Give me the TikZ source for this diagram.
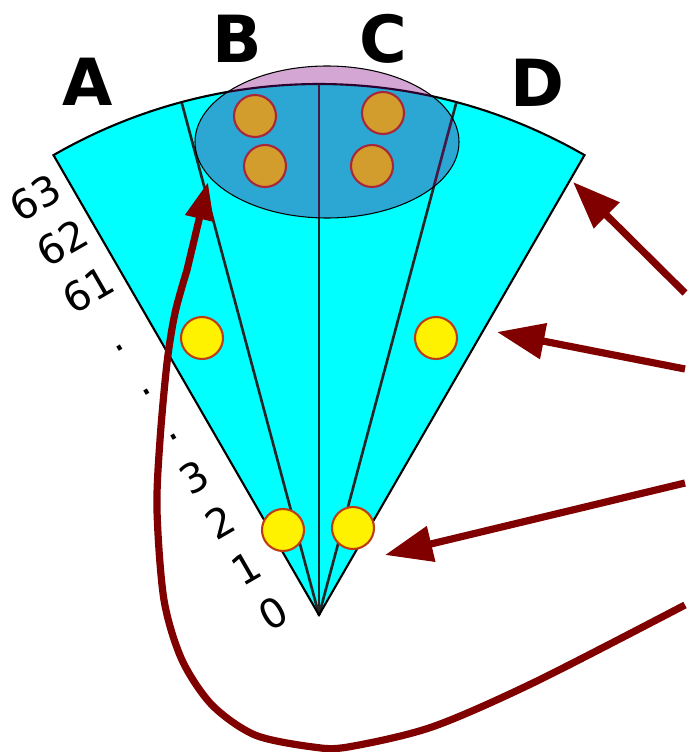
\documentclass[tikz,border=0pt]{standalone}
\usepackage{fontspec}
\setmainfont{DejaVu Sans}
\usepackage{xcolor}
\usepackage{tikz}
\usetikzlibrary{arrows.meta,positioning,calc}
\definecolor{fancyan}{RGB}{0,255,255}
\definecolor{lenspurple}{RGB}{128,0,128}
\definecolor{arrowred}{RGB}{128,0,0}
\definecolor{hitrim}{RGB}{190,60,20}

\begin{document}
\begin{tikzpicture}[x=0.02cm,y=0.02cm,
  hit/.style={circle, draw=hitrim, fill=yellow, line width=1.2pt, minimum size=0.84cm, inner sep=0pt},
  pointer/.style={-{Triangle[length=0.95cm,width=0.7cm]}, line width=4.1pt, arrowred},
  loop pointer/.style={-{Triangle[length=0.75cm,width=0.55cm]}, line width=4.1pt, arrowred},
  letter/.style={font=\fontsize{37}{38}\selectfont\bfseries},
  layer/.style={font=\fontsize{23}{24}\selectfont, rotate=30, inner sep=0pt}]
  \useasboundingbox (0,0) rectangle (689,752);
  \coordinate (O) at (319,137);
  % Faecher
  \fill[fancyan] (O) -- ($(O)+(60:531)$) arc[start angle=60, end angle=120, radius=531] -- cycle;
  \foreach \a in {75,90,105}
    \draw[line width=1.5pt, black!85] (O) -- ($(O)+(\a:531)$);
  \draw[line width=1.2pt] (O) -- ($(O)+(60:531)$) arc[start angle=60, end angle=120, radius=531] -- cycle;
  % Beschriftung
  \node[letter] (A) at (88,670) {A};
  \node[letter] (B) at (237,713) {B};
  \node[letter] (C) at (383,713) {C};
  \node[letter] (D) at (537,669) {D};
  \node[layer] (l63) at (35,554) {63};
  \node[layer] (l62) at (62,509) {62};
  \node[layer] (l61) at (88,462) {61};
  \node[layer] (d1) at (120,404) {.};
  \node[layer] (d2) at (147,360) {.};
  \node[layer] (d3) at (174,315) {.};
  \node[layer] (l3) at (194,275) {3};
  \node[layer] (l2) at (220,230) {2};
  \node[layer] (l1) at (246,184) {1};
  \node[layer] (l0) at (273,139) {0};
  % Treffer
  \node[hit] (h1) at (255,636) {};
  \node[hit] (h2) at (265,586) {};
  \node[hit] (h3) at (383,639) {};
  \node[hit] (h4) at (372,586) {};
  \node[hit] (h5) at (202,414) {};
  \node[hit] (h6) at (436,414) {};
  \node[hit] (h7) at (283,222) {};
  \node[hit] (h8) at (353,224) {};
  % Cluster
  \draw[line width=0.6pt, fill=lenspurple, fill opacity=0.35] (327,610) ellipse [x radius=132, y radius=76];
  % Pfeile
  \coordinate (t1) at (685,459); \coordinate (p1) at (573,570);
  \coordinate (t2) at (685,383); \coordinate (p2) at (497,420);
  \coordinate (t3) at (685,269); \coordinate (p3) at (385,197);
  \coordinate (t4) at (685,147); \coordinate (p4) at (208,570);
  \draw[pointer] (t1) -- (p1);
  \draw[pointer] (t2) -- (p2);
  \draw[pointer] (t3) -- (p3);
  \draw[loop pointer] plot[smooth, tension=0.5] coordinates {(t4) (535,70) (432,25) (348,5) (313,5) (255,17) (212,47) (182,92) (164,152) (157,242) (160,312) (167,389) (175,439) (187,482)} -- (p4);
\end{tikzpicture}
\end{document}
